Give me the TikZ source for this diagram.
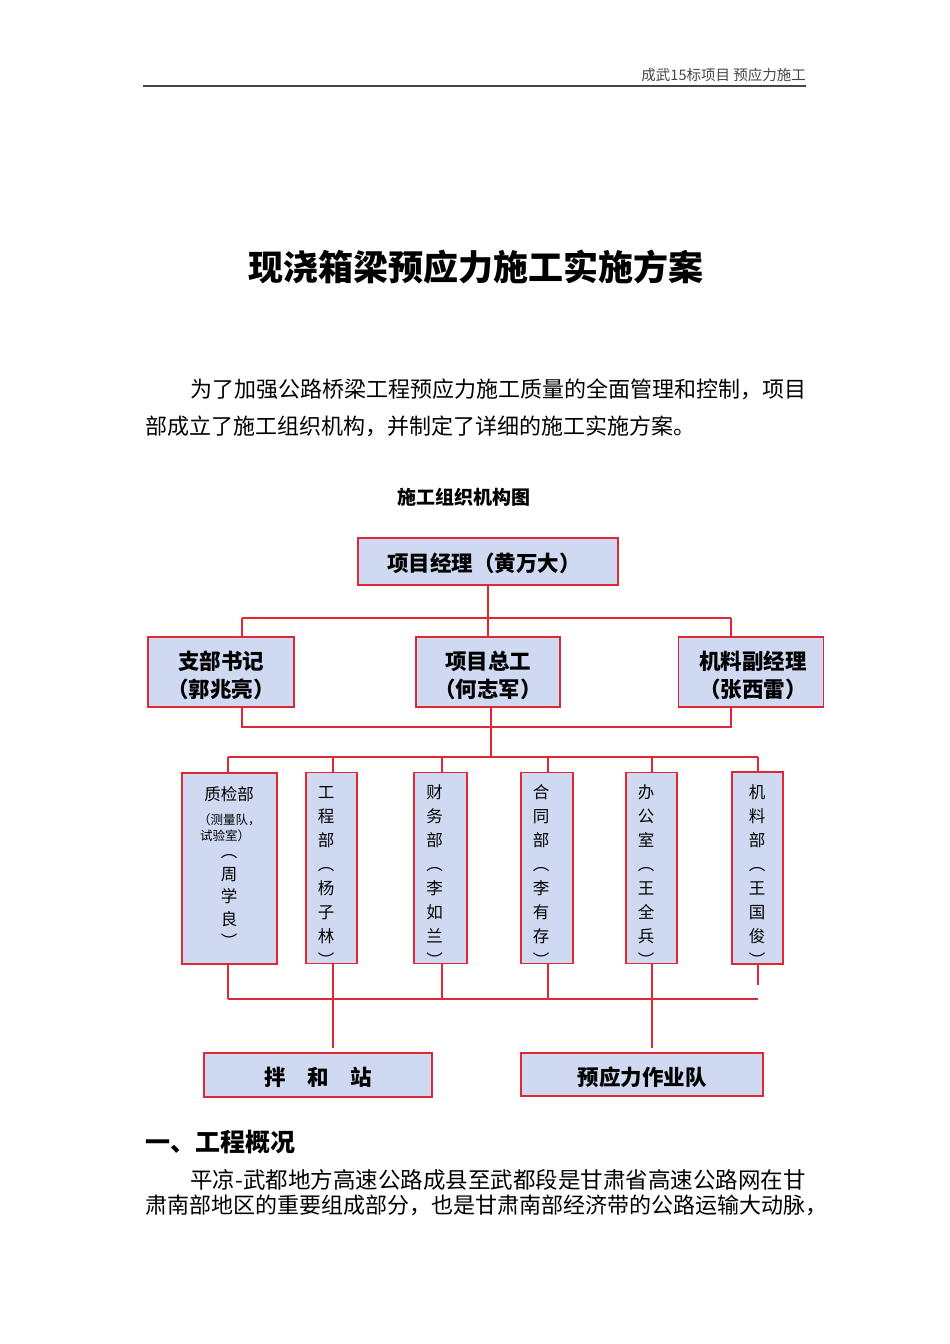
\documentclass[tikz,border=0pt]{standalone}
\usepackage{fontspec}
\newfontfamily\cjk{Noto Sans CJK SC}
\definecolor{boxred}{RGB}{222,40,52}
\definecolor{boxfill}{RGB}{207,218,242}
\definecolor{hdrgray}{RGB}{70,70,70}
\begin{document}
\begin{tikzpicture}[x=1pt,y=-1pt,
  box/.style={draw=boxred, fill=boxfill, line width=1.4pt, rectangle, inner sep=0pt},
  conn/.style={draw=boxred, line width=1.1pt},
  lone/.style={font=\cjk\bfseries\fontsize{21.5}{28}\selectfont, align=center, inner sep=0pt},
  vtext/.style={font=\cjk\fontsize{16.5}{24}\selectfont, align=center, inner sep=0pt},
  txt/.style={inner sep=0pt, anchor=west}
]
\useasboundingbox (0,0) rectangle (950,1344);

% header
\node[inner sep=0pt, anchor=east, text=hdrgray, font=\cjk\fontsize{14.5}{16}\selectfont] (hdr) at (806,75) {成武15标项目 预应力施工};
\draw[line width=1.3pt, hdrgray] (143,86) -- (806,86);

% title
\node[inner sep=0pt, font=\cjk\bfseries\fontsize{35}{40}\selectfont] (title) at (475.5,267) {现浇箱梁预应力施工实施方案};

% intro paragraph
\node[txt, font=\cjk\fontsize{22}{26}\selectfont] (p1) at (190,389) {为了加强公路桥梁工程预应力施工质量的全面管理和控制，项目};
\node[txt, font=\cjk\fontsize{22}{26}\selectfont] (p2) at (145,426) {部成立了施工组织机构，并制定了详细的施工实施方案。};

% chart title
\node[inner sep=0pt, font=\cjk\bfseries\fontsize{19}{22}\selectfont] (ctitle) at (464,497) {施工组织机构图};

% level 1
\node[box, minimum width=260pt, minimum height=47pt] (top) at (488,561.5) {};
\node[lone] (topt) at (484,563) {项目经理（黄万大）};

% level 2
\node[box, minimum width=146pt, minimum height=70pt] (sb) at (221,672) {};
\node[lone] (sbt) at (221,675) {支部书记\\（郭兆亮）};
\node[box, minimum width=144pt, minimum height=70pt] (zg) at (488,672) {};
\node[lone] (zgt) at (488,675) {项目总工\\（何志军）};
\node[box, minimum width=145pt, minimum height=70pt] (jl) at (751,672) {};
\node[lone] (jlt) at (753,675) {机料副经理\\（张西雷）};

% connectors level1 -> level2
\coordinate (aC) at (488,618);
\coordinate (aL) at (242,618);
\coordinate (aR) at (731,618);
\draw[conn] (top.south) -- (aC);
\draw[conn] (aL) -- (aR);
\draw[conn] (aL) -- (aL |- sb.north);
\draw[conn] (aC) -- (aC |- zg.north);
\draw[conn] (aR) -- (aR |- jl.north);

% level 2 bottom bus
\coordinate (bL) at (242,727);
\coordinate (bR) at (731,727);
\coordinate (bC) at (491,727);
\coordinate (cC) at (491,757);
\draw[conn] (bL |- sb.south) -- (bL) -- (bR) -- (bR |- jl.south);
\draw[conn] (bC |- zg.south) -- (cC);

% level 3 boxes
\node[box, minimum width=95pt, minimum height=191pt] (zj) at (229.5,868.5) {};
\node[box, minimum width=51pt, minimum height=191pt] (gc) at (331.5,868) {};
\node[box, minimum width=53pt, minimum height=191pt] (cw) at (440.5,868) {};
\node[box, minimum width=52pt, minimum height=191pt] (ht) at (547,868) {};
\node[box, minimum width=51pt, minimum height=191pt] (bg) at (651.5,868) {};
\node[box, minimum width=51pt, minimum height=192pt] (jb) at (757.5,868) {};

% level 3 texts
\node[inner sep=0pt, font=\cjk\fontsize{16.5}{20}\selectfont] (zjt1) at (229,794) {质检部};
\node[inner sep=0pt, anchor=west, font=\cjk\fontsize{12.5}{15}\selectfont] (zjt2) at (198,820) {（测量队，};
\node[inner sep=0pt, anchor=west, font=\cjk\fontsize{12.5}{15}\selectfont] (zjt3) at (200,836) {试验室）};
\node[vtext, font=\cjk\fontsize{16.5}{22.5}\selectfont] (zjt4) at (229,901) {︵\\周\\学\\良\\︶};
\node[vtext] (gct) at (326,876) {工\\程\\部\\︵\\杨\\子\\林\\︶};
\node[vtext] (cwt) at (434.5,876) {财\\务\\部\\︵\\李\\如\\兰\\︶};
\node[vtext] (htt) at (541,876) {合\\同\\部\\︵\\李\\有\\存\\︶};
\node[vtext] (bgt) at (646,876) {办\\公\\室\\︵\\王\\全\\兵\\︶};
\node[vtext] (jbt) at (757,876) {机\\料\\部\\︵\\王\\国\\俊\\︶};

% level 3 top bus
\coordinate (cL) at (228,757);
\coordinate (cR) at (758,757);
\coordinate (c2) at (333,757);
\coordinate (c3) at (442,757);
\coordinate (c4) at (548,757);
\coordinate (c5) at (652,757);
\draw[conn] (cL) -- (cR);
\draw[conn] (cL) -- (cL |- zj.north);
\draw[conn] (c2) -- (c2 |- gc.north);
\draw[conn] (c3) -- (c3 |- cw.north);
\draw[conn] (c4) -- (c4 |- ht.north);
\draw[conn] (c5) -- (c5 |- bg.north);
\draw[conn] (cR) -- (cR |- jb.north);

% level 3 bottom bus
\coordinate (dL) at (228,999);
\coordinate (dR) at (758,999);
\coordinate (d2) at (333,999);
\coordinate (d3) at (442,999);
\coordinate (d4) at (548,999);
\coordinate (d5) at (652,999);
\coordinate (stub) at (758,985);
\draw[conn] (dL) -- (dR);
\draw[conn] (dL |- zj.south) -- (dL);
\draw[conn] (d2 |- gc.south) -- (d2);
\draw[conn] (d3 |- cw.south) -- (d3);
\draw[conn] (d4 |- ht.south) -- (d4);
\draw[conn] (d5 |- bg.south) -- (d5);
\draw[conn] (stub |- jb.south) -- (stub);

% bottom boxes
\node[box, minimum width=228pt, minimum height=44pt] (bh) at (318,1075) {};
\node[lone] (bht) at (318,1077) {拌　和　站};
\node[box, minimum width=242pt, minimum height=43pt] (yy) at (642,1074.5) {};
\node[lone] (yyt) at (642,1077) {预应力作业队};
\draw[conn] (d2) -- ([yshift=4pt]bh.north -| d2);
\draw[conn] (d5) -- ([yshift=4pt]yy.north -| d5);

% section
\node[txt, font=\cjk\bfseries\fontsize{25}{30}\selectfont] (sec) at (145,1142) {一、工程概况};
\node[txt, font=\cjk\fontsize{22.5}{26}\selectfont] (b1) at (190,1180) {平凉-武都地方高速公路成县至武都段是甘肃省高速公路网在甘};
\node[txt, font=\cjk\fontsize{22}{26}\selectfont] (b2) at (145,1205) {肃南部地区的重要组成部分，也是甘肃南部经济带的公路运输大动脉，};
\end{tikzpicture}
\end{document}
